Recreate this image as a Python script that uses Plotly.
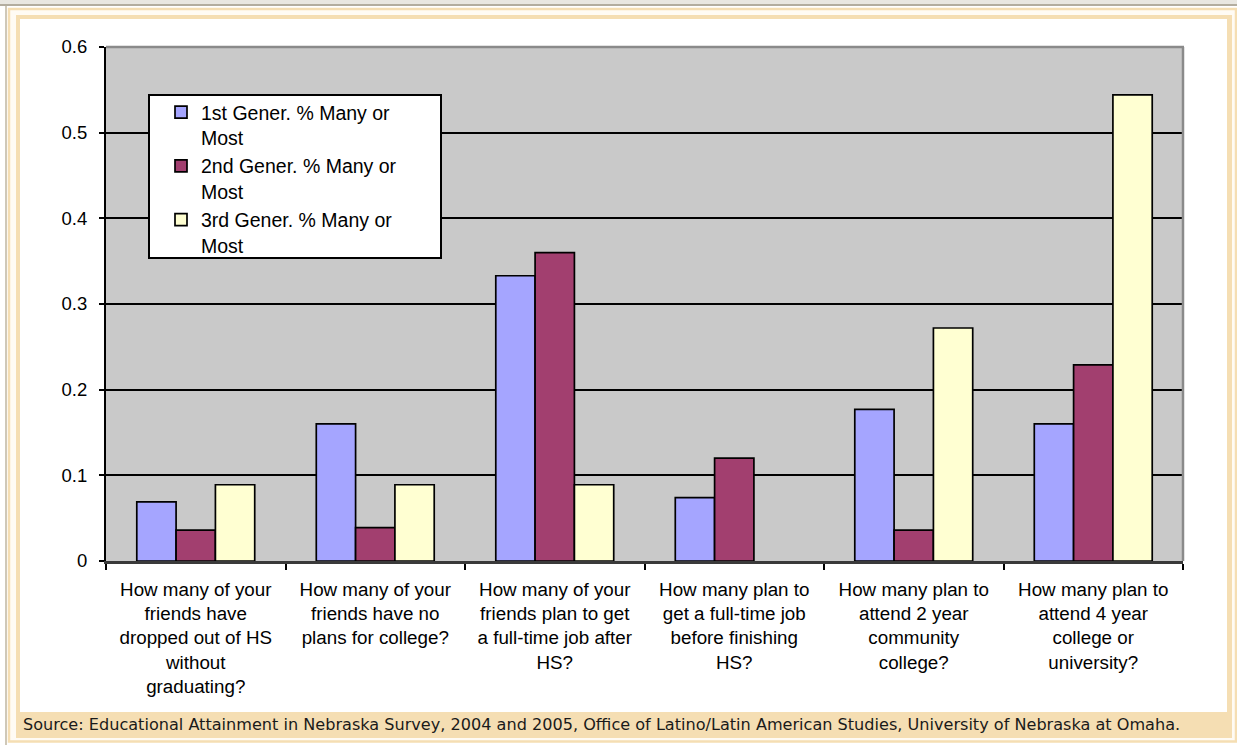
import plotly.graph_objects as go

# ---------------- data ----------------
categories = [
    "How many of your friends have dropped out of HS without graduating?",
    "How many of your friends have no plans for college?",
    "How many of your friends plan to get a full-time job after HS?",
    "How many plan to get a full-time job before finishing HS?",
    "How many plan to attend 2 year community college?",
    "How many plan to attend 4 year college or university?",
]
tick_labels = [
    "How many of your<br>friends have<br>dropped out of HS<br>without<br>graduating?",
    "How many of your<br>friends have no<br>plans for college?",
    "How many of your<br>friends plan to get<br>a full-time job after<br>HS?",
    "How many plan to<br>get a full-time job<br>before finishing<br>HS?",
    "How many plan to<br>attend 2 year<br>community<br>college?",
    "How many plan to<br>attend 4 year<br>college or<br>university?",
]
series_names = [
    "1st Gener. % Many or<br>Most",
    "2nd Gener. % Many or<br>Most",
    "3rd Gener. % Many or<br>Most",
]
gen1 = [0.069, 0.160, 0.333, 0.074, 0.177, 0.160]
gen2 = [0.036, 0.039, 0.360, 0.120, 0.036, 0.229]
gen3 = [0.089, 0.089, 0.089, None, 0.272, 0.544]
colors = ["#a5a5ff", "#a23f6f", "#ffffd2"]
source_text = ("Source: Educational Attainment in Nebraska Survey, 2004 and 2005, "
               "Office of Latino/Latin American Studies, University of Nebraska at Omaha.")

# ---------------- geometry helpers ----------------
W, H = 1237, 745
L, R, T, B = 106, 1183, 47, 561


def px(x):
    return (x - L) / (R - L)


def py(y):
    return (B - y) / (B - T)


fig = go.Figure()
for name, vals, col in zip(series_names, [gen1, gen2, gen3], colors):
    fig.add_trace(go.Bar(
        x=categories, y=vals, name=name,
        marker=dict(color=col, line=dict(color="#000000", width=1.7)),
    ))


def rect(x0, y0, x1, y1, fill=None, line=None, lw=0, layer="below"):
    return dict(type="rect", xref="paper", yref="paper",
                x0=px(x0), x1=px(x1), y0=py(y0), y1=py(y1),
                fillcolor=fill if fill else "rgba(0,0,0,0)",
                line=dict(color=line if line else "rgba(0,0,0,0)", width=lw),
                layer=layer)


def hline(x0, x1, y, color, lw, layer="above"):
    return dict(type="line", xref="paper", yref="paper",
                x0=px(x0), x1=px(x1), y0=py(y), y1=py(y),
                line=dict(color=color, width=lw), layer=layer)


def vline(x, y0, y1, color, lw, layer="above"):
    return dict(type="line", xref="paper", yref="paper",
                x0=px(x), x1=px(x), y0=py(y0), y1=py(y1),
                line=dict(color=color, width=lw), layer=layer)


WHEAT = "#f5deb3"
shapes = [
    rect(0, 0, W, 4, fill="#e9e7e1"),
    rect(0, 4, W, 6, fill="#b3ad9f"),
    rect(5, 6, 7, H, fill="#cfc8b8"),
    rect(9, 9, 1236, 741.5, fill="#fffbf4", line=WHEAT, lw=2.5),
    rect(16, 15, 1232, 738, fill=WHEAT),
    rect(20, 19, 1227, 712, fill="#ffffff"),
    rect(L, T, R, B, fill="#c9c9c9"),
    hline(L, R + 1, T, "#8a8a8a", 2.5),
    vline(R, T, B, "#8a8a8a", 2.5),
    rect(149, 95, 441, 258, fill="#ffffff", line="#000000", lw=2, layer="above"),
]

fig.update_layout(
    width=W, height=H,
    margin=dict(l=L, r=W - R, t=T, b=H - B),
    paper_bgcolor="#ffffff",
    plot_bgcolor="rgba(0,0,0,0)",
    barmode="group", bargap=0.343, bargroupgap=0,
    shapes=shapes,
    font=dict(family="Arial, Liberation Sans", color="#000000"),
    legend=dict(
        x=px(161), y=py(93), xanchor="left", yanchor="top",
        bgcolor="rgba(0,0,0,0)", borderwidth=0,
        font=dict(family="Arial, Liberation Sans", size=19.5, color="#000000"),
        valign="top", tracegroupgap=0,
    ),
    xaxis=dict(
        type="category", tickmode="array", tickvals=categories, ticktext=tick_labels,
        tickson="boundaries", ticks="outside", ticklen=6, tickwidth=2, tickcolor="#000000",
        showline=True, linecolor="#3a3a3a", linewidth=3, showgrid=False,
        tickfont=dict(family="Arial, Liberation Sans", size=18.8, color="#000000"),
        tickangle=0, ticklabelstandoff=9,
    ),
    yaxis=dict(
        range=[0, 0.6], dtick=0.1, tick0=0, ticks="outside", ticklen=5, tickwidth=2,
        tickcolor="#000000", showline=True, linecolor="#000000", linewidth=2,
        showgrid=True, gridcolor="#000000", gridwidth=2, zeroline=False,
        tickfont=dict(family="Arial, Liberation Sans", size=18.5, color="#000000"),
        ticklabelstandoff=8,
    ),
    annotations=[dict(
        xref="paper", yref="paper", x=px(21), y=py(724.5), xanchor="left", yanchor="middle",
        text=source_text, showarrow=False,
        font=dict(family="DejaVu Sans", size=16.1, color="#1a1a1a"),
    )],
)

fig.write_html("out.html", config={"displayModeBar": False},
               post_script="document.body.style.margin='0';")
